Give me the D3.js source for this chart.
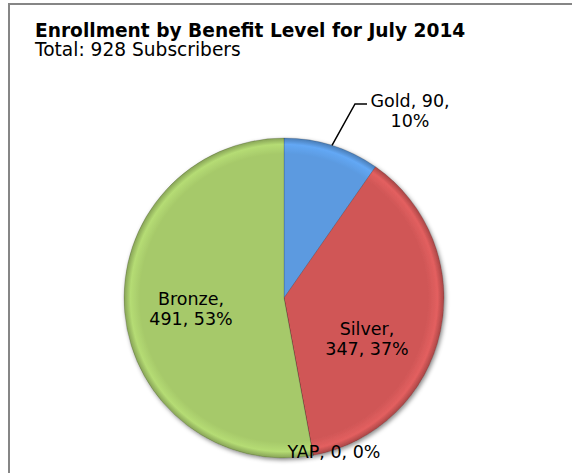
<!DOCTYPE html>
<html>
<head>
<meta charset="utf-8">
<script src="https://cdn.jsdelivr.net/npm/d3@7"></script>
<style>
  body { margin: 0; background: #fff; }
  svg { display: block; }
  text { font-family: "DejaVu Sans", Verdana, sans-serif; fill: #000; }
</style>
</head>
<body>
<svg id="chart" width="572" height="473"></svg>
<script>
const categories = ["Gold", "Silver", "YAP", "Bronze"];
const values = [90, 347, 0, 491];
const percents = ["10%", "37%", "0%", "53%"];
const colors = ["#5b9ae0", "#d05757", "#8064a2", "#a6c96a"];

const width = 572;
const height = 473;
const cx = 284, cy = 298, radius = 160;

const svg = d3.select("#chart");

// frame (only top and left edges show inside the crop)
svg.append("rect")
  .attr("x", 9)
  .attr("y", 4)
  .attr("width", width + 20)
  .attr("height", height + 20)
  .attr("fill", "#fff")
  .attr("stroke", "#868686")
  .attr("stroke-width", 2);

svg.append("text")
  .attr("x", 35)
  .attr("y", 37)
  .attr("font-weight", "bold")
  .attr("font-size", 18.6)
  .text("Enrollment by Benefit Level for July 2014");

svg.append("text")
  .attr("x", 35)
  .attr("y", 56)
  .attr("font-size", 18.6)
  .text("Total: 928 Subscribers");

const defs = svg.append("defs");

const shadow = defs.append("filter")
  .attr("id", "shadow")
  .attr("x", "-20%").attr("y", "-20%")
  .attr("width", "140%").attr("height", "140%");
shadow.append("feDropShadow")
  .attr("dx", 1.5).attr("dy", 2)
  .attr("stdDeviation", 2)
  .attr("flood-color", "#000")
  .attr("flood-opacity", 0.45);

colors.forEach((c, i) => {
  const base = d3.color(c);
  const g = defs.append("radialGradient")
    .attr("id", "grad" + i)
    .attr("gradientUnits", "userSpaceOnUse")
    .attr("cx", 0).attr("cy", 0).attr("r", radius);
  g.append("stop").attr("offset", "0%").attr("stop-color", base.formatHex());
  g.append("stop").attr("offset", "90%").attr("stop-color", base.formatHex());
  g.append("stop").attr("offset", "96%").attr("stop-color", base.brighter(0.25).formatHex());
  g.append("stop").attr("offset", "100%").attr("stop-color", base.darker(0.6).formatHex());
});

const pie = d3.pie().sort(null).value(d => d)(values);
const arc = d3.arc().innerRadius(0).outerRadius(radius);

const g = svg.append("g")
  .attr("transform", `translate(${cx},${cy})`);

g.append("g")
  .attr("filter", "url(#shadow)")
  .selectAll("path")
  .data(pie)
  .join("path")
  .attr("d", arc)
  .attr("fill", (d, i) => `url(#grad${i})`)
  .attr("stroke", "rgba(0,0,0,0.25)")
  .attr("stroke-width", 0.6);

// label placement, relative to pie centre
const labelPos = [
  { x: 126, y: -191, lines: [categories[0] + ", " + values[0] + ",", percents[0]] },
  { x: 83, y: 37, lines: [categories[1] + ",", values[1] + ", " + percents[1]] },
  { x: 50, y: 160, lines: [categories[2] + ", " + values[2] + ", " + percents[2]] },
  { x: -93, y: 7, lines: [categories[3] + ",", values[3] + ", " + percents[3]] }
];

labelPos.forEach(p => {
  const t = g.append("text")
    .attr("text-anchor", "middle")
    .attr("font-size", 17.5);
  p.lines.forEach((line, j) => {
    t.append("tspan")
      .attr("x", p.x)
      .attr("y", p.y + j * 20)
      .text(line);
  });
});

// leader line for Gold
const a = (pie[0].startAngle + pie[0].endAngle) / 2;
const start = [radius * Math.sin(a), -radius * Math.cos(a)];
g.append("polyline")
  .attr("points", [start, [71, -194], [83, -194]].map(p => p.join(",")).join(" "))
  .attr("fill", "none")
  .attr("stroke", "#000")
  .attr("stroke-width", 1.5);
</script>
</body>
</html>
